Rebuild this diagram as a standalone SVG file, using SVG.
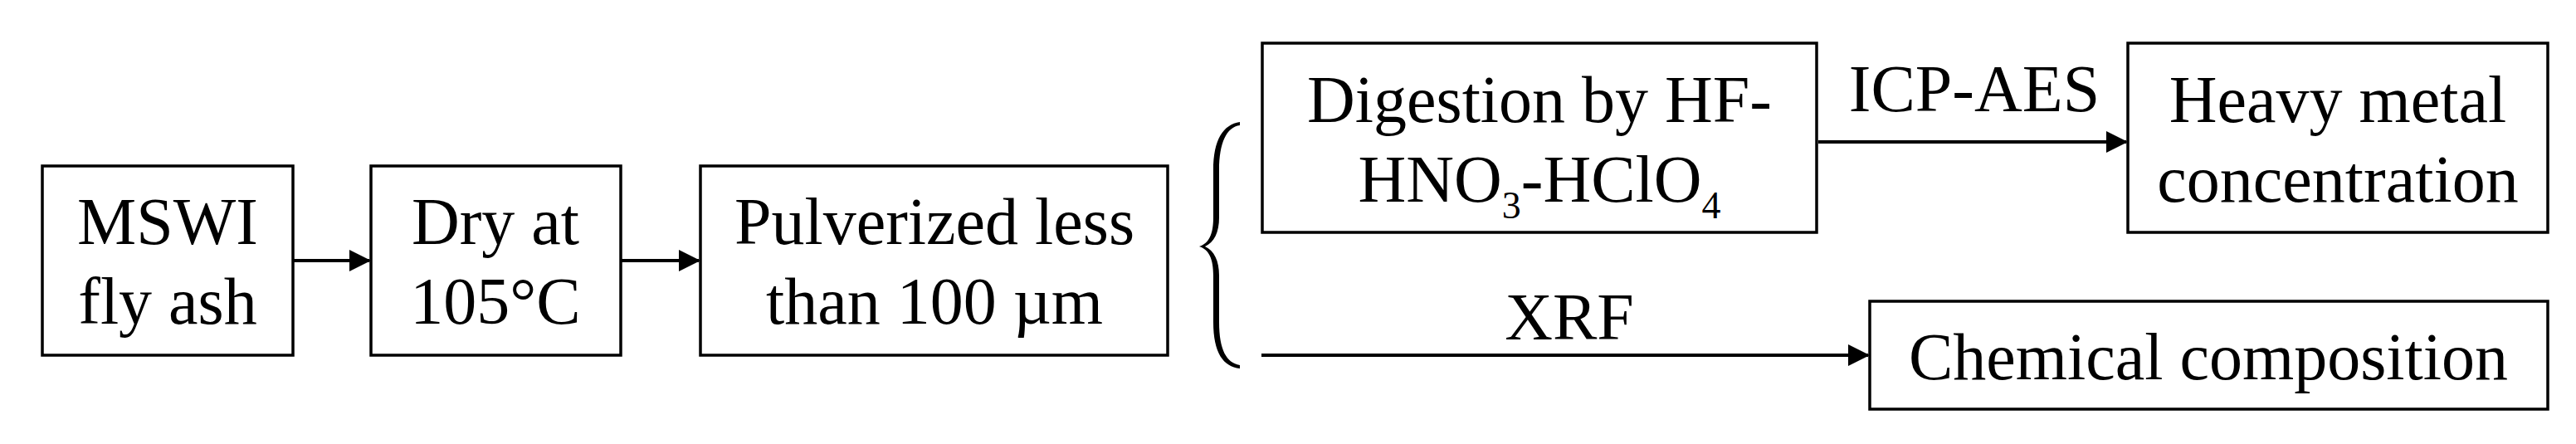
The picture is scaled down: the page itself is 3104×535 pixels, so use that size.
<svg xmlns="http://www.w3.org/2000/svg" width="3104" height="535" viewBox="0 0 3104 535">
<style>
.box{fill:#fff;stroke:#000;stroke-width:3.5}
.t{font-family:"Liberation Serif","Times New Roman",serif;font-size:80px;fill:#000;text-anchor:middle}
.sub{font-size:46px}
.c{stroke:#000;stroke-width:4;fill:none}
</style>
<defs>
<marker id="ah" markerUnits="userSpaceOnUse" markerWidth="26" markerHeight="26" refX="24" refY="13" orient="auto">
<path d="M0,0 L26,13 L0,26 z" fill="#000"/>
</marker>
</defs>
<rect width="3104" height="535" fill="#fff"/>
<g id="n1"><rect class="box" x="51" y="200" width="302" height="228"/>
<text class="t" x="202" y="294">MSWI</text><text class="t" x="202" y="390">fly ash</text></g>
<g id="n2"><rect class="box" x="447" y="200" width="301" height="228"/>
<text class="t" x="597" y="294">Dry at</text><text class="t" x="597" y="390">105°C</text></g>
<g id="n3"><rect class="box" x="844" y="200" width="563" height="228"/>
<text class="t" x="1126" y="294">Pulverized less</text><text class="t" x="1126" y="390">than 100 µm</text></g>
<g id="n4"><rect class="box" x="1521" y="52" width="668" height="228"/>
<text class="t" x="1855" y="147">Digestion by HF-</text>
<text class="t" x="1855" y="243">HNO<tspan class="sub" dy="20">3</tspan><tspan dy="-20">-HClO</tspan><tspan class="sub" dy="20">4</tspan></text></g>
<g id="n5"><rect class="box" x="2564" y="52" width="506" height="228"/>
<text class="t" x="2817" y="147">Heavy metal</text><text class="t" x="2817" y="243">concentration</text></g>
<g id="n6"><rect class="box" x="2253" y="363" width="817" height="130"/>
<text class="t" x="2661" y="457">Chemical composition</text></g>
<g id="connectors">
<line class="c" x1="353" y1="314" x2="445" y2="314" marker-end="url(#ah)"/>
<line class="c" x1="748" y1="314" x2="842" y2="314" marker-end="url(#ah)"/>
<path fill="#000" d="M1494,147 C1474,150 1462,168 1462,205 L1462,262 C1462,282 1457,293 1445,297 C1457,301 1462,312 1462,332 L1462,388 C1462,425 1474,442 1494,444 L1494,440 C1478,437 1469,422 1469,388 L1469,332 C1469,314 1463,302 1452,297 C1463,292 1469,280 1469,262 L1469,205 C1469,172 1478,153 1494,151 Z"/>
<line class="c" x1="2191" y1="171" x2="2562" y2="171" marker-end="url(#ah)"/>
<text class="t" x="2379" y="134">ICP-AES</text>
<line class="c" x1="1520" y1="428" x2="2251" y2="428" marker-end="url(#ah)"/>
<text class="t" x="1891" y="409">XRF</text>
</g>
</svg>
